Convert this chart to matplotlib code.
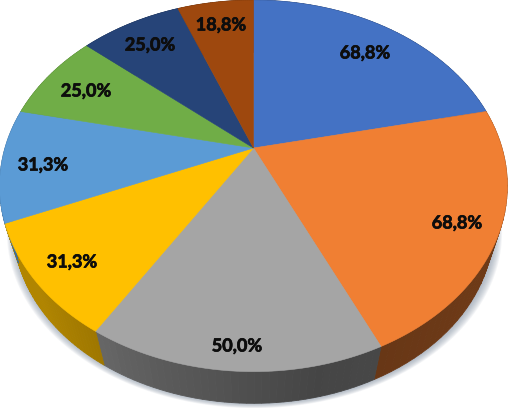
#!/usr/bin/env python3

import matplotlib
matplotlib.use('Agg')
import matplotlib.patheffects as pe
import matplotlib.pyplot as plt
import numpy as np

values = [68.8, 68.8, 50.0, 31.3, 31.3, 25.0, 25.0, 18.8]
labels = ['68,8%', '68,8%', '50,0%', '31,3%', '31,3%', '25,0%', '25,0%', '18,8%']
colors = ['#4472C4', '#F07F33', '#A5A5A5', '#FFC000', '#5B9BD5', '#70AD47', '#264478', '#9E480E']
label_x = [365, 457, 237, 72, 43, 86, 150, 221]
label_y = [53, 223, 346, 262, 165, 91, 45, 25]

# pie apex and perspective of the tilted disc, in pixels
cx, cy = 253.5, 148
W, H, K = 248.5, 178, 0.204
SCALE2, DROP = 0.945, 44

plt.rcParams['font.family'] = ['Lato', 'DejaVu Sans']


def project(t, lower=False):
    # t = clockwise angle from the top, radians
    X, Y = np.sin(t), np.cos(t)
    u = W * X / (1 + K * Y)
    v = H * Y / (1 + K * Y)
    if lower:
        u, v = SCALE2 * u, SCALE2 * v - DROP
    return cx + u, cy - v


def shade(t):
    # side wall brightness, lighter towards the left
    return np.interp(np.sin(t), [-1, -0.75, -0.3, 0.2, 1], [0.7, 0.69, 0.55, 0.42, 0.47])


fig = plt.figure(figsize=(5.1, 4.08), dpi=100)
ax = fig.add_axes([0, 0, 1, 1])
ax.set_xlim(0, 510)
ax.set_ylim(408, 0)
ax.axis('off')

edges = np.cumsum([0] + values) / sum(values) * 2 * np.pi

# soft shadow under the disc
circle = np.linspace(0, 2 * np.pi, 300)
sx, sy = project(circle, lower=True)
for grow in np.linspace(8, 0.5, 10):
    ax.fill(cx + (sx - cx) * (1 + grow / 250) + 1, sy + grow * 0.6, color='#8a97a8', alpha=0.09, lw=0)

# side walls, back to front so the front is on top
for i, c in enumerate(colors):
    rgb = np.array(matplotlib.colors.to_rgb(c))
    steps = np.linspace(edges[i], edges[i + 1], 40)
    for a, b in zip(steps[:-1], steps[1:]):
        x1, y1 = project(np.array([a, b]))
        x2, y2 = project(np.array([b, a]), lower=True)
        col = rgb * shade((a + b) / 2)
        ax.fill(np.r_[x1, x2], np.r_[y1, y2], color=col, lw=0.6)

# top faces
for i, c in enumerate(colors):
    t = np.linspace(edges[i], edges[i + 1], 80)
    x, y = project(t)
    ax.fill(np.r_[cx, x], np.r_[cy, y], color=c, lw=0.4)

# thin stroke because Lato bold is lighter than the original label font
for lx, ly, s in zip(label_x, label_y, labels):
    ax.text(lx, ly, s, ha='center', va='center', fontsize=13, fontweight='bold', color='#0d0d0d',
            path_effects=[pe.withStroke(linewidth=0.5, foreground='#0d0d0d')])

plt.savefig('out.png', dpi=100)
